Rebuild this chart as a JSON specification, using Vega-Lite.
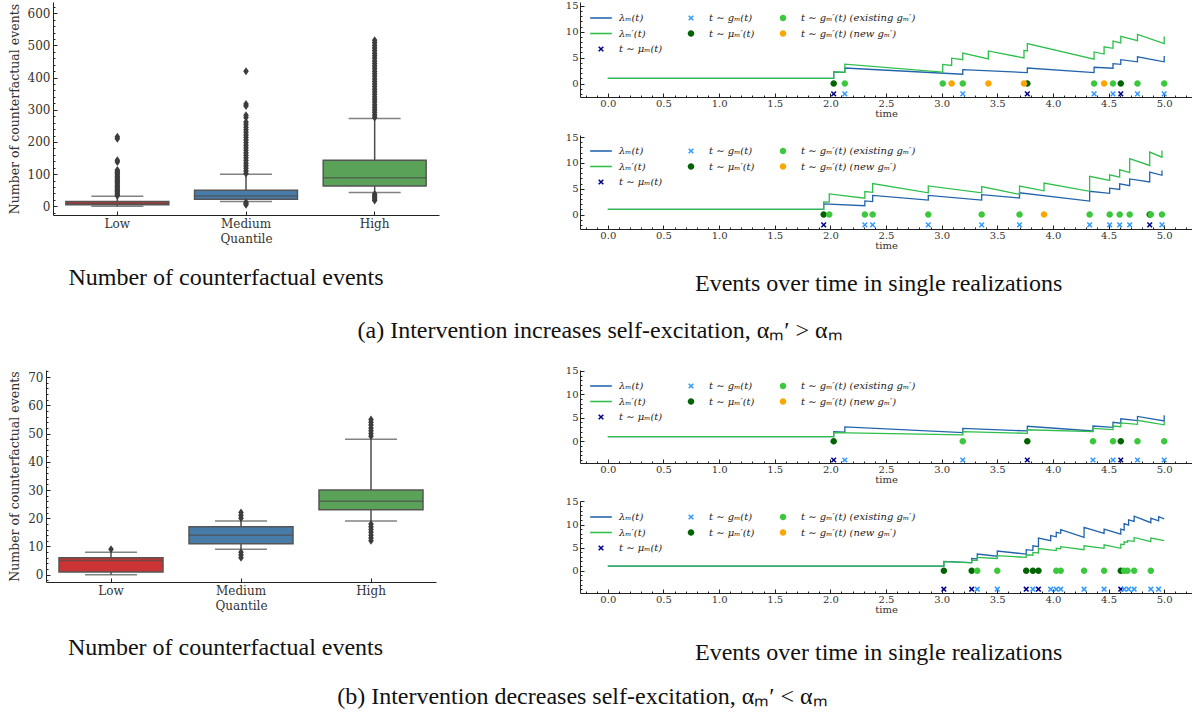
{
"$schema": "https://vega.github.io/schema/vega-lite/v6.json",
"padding": {"left": 8, "top": 0, "right": 0, "bottom": 0},
"config": {
  "view": {"stroke": null},
  "font": "DejaVu Serif",
  "axis": {"labelFont": "DejaVu Serif", "titleFont": "DejaVu Serif", "labelColor": "#333", "titleColor": "#333", "domainColor": "#222", "tickColor": "#222", "grid": false, "tickSize": -4, "labelPadding": 7, "titleFontWeight": "normal"},
  "legend": {"orient": "none", "legendX": 13, "legendY": 8, "columns": 3, "direction": "horizontal", "symbolSize": 240, "labelFont": "DejaVu Serif", "labelFontSize": 10, "labelFontStyle": "italic", "labelColor": "#222", "labelOffset": 10, "columnPadding": 20, "rowPadding": 2.5, "symbolStrokeWidth": 0},
  "title": {"font": "Liberation Serif", "fontSize": 24, "fontWeight": "normal", "color": "#111"}
},
"datasets": {
  "boxA": [
    {"q": "Low", "lo": 0, "q1": 5, "med": 9, "q3": 15, "hi": 31},
    {"q": "Medium", "lo": 15, "q1": 22, "med": 32, "q3": 50, "hi": 100},
    {"q": "High", "lo": 43, "q1": 63, "med": 89, "q3": 143, "hi": 273}
  ],
  "outA": [
    {"q":"Low","v":33},{"q":"Low","v":37},{"q":"Low","v":41},{"q":"Low","v":45},{"q":"Low","v":49},{"q":"Low","v":53},{"q":"Low","v":57},{"q":"Low","v":61},{"q":"Low","v":65},{"q":"Low","v":69},{"q":"Low","v":73},{"q":"Low","v":77},{"q":"Low","v":81},{"q":"Low","v":85},{"q":"Low","v":89},{"q":"Low","v":93},{"q":"Low","v":97},{"q":"Low","v":101},{"q":"Low","v":105},{"q":"Low","v":109},{"q":"Low","v":113},{"q":"Low","v":138},{"q":"Low","v":143},{"q":"Low","v":210},{"q":"Low","v":216},
    {"q":"Medium","v":5},{"q":"Medium","v":9},{"q":"Medium","v":13},{"q":"Medium","v":102},{"q":"Medium","v":110},{"q":"Medium","v":118},{"q":"Medium","v":126},{"q":"Medium","v":134},{"q":"Medium","v":142},{"q":"Medium","v":150},{"q":"Medium","v":158},{"q":"Medium","v":166},{"q":"Medium","v":174},{"q":"Medium","v":182},{"q":"Medium","v":190},{"q":"Medium","v":198},{"q":"Medium","v":206},{"q":"Medium","v":214},{"q":"Medium","v":222},{"q":"Medium","v":230},{"q":"Medium","v":238},{"q":"Medium","v":246},{"q":"Medium","v":254},{"q":"Medium","v":262},{"q":"Medium","v":276},{"q":"Medium","v":283},{"q":"Medium","v":312},{"q":"Medium","v":318},{"q":"Medium","v":420},
    {"q":"High","v":18},{"q":"High","v":23},{"q":"High","v":28},{"q":"High","v":33},{"q":"High","v":38},
    {"q":"High","v":276},{"q":"High","v":284},{"q":"High","v":292},{"q":"High","v":300},{"q":"High","v":308},{"q":"High","v":316},{"q":"High","v":324},{"q":"High","v":332},{"q":"High","v":340},{"q":"High","v":348},{"q":"High","v":356},{"q":"High","v":364},{"q":"High","v":372},{"q":"High","v":380},{"q":"High","v":388},{"q":"High","v":396},{"q":"High","v":404},{"q":"High","v":412},{"q":"High","v":420},{"q":"High","v":428},{"q":"High","v":436},{"q":"High","v":444},{"q":"High","v":452},{"q":"High","v":460},{"q":"High","v":468},{"q":"High","v":476},{"q":"High","v":484},{"q":"High","v":492},{"q":"High","v":500},{"q":"High","v":508},{"q":"High","v":516}
  ],
  "boxB": [
    {"q": "Low", "lo": 0, "q1": 1, "med": 5, "q3": 6, "hi": 8},
    {"q": "Medium", "lo": 9, "q1": 11, "med": 14, "q3": 17, "hi": 19},
    {"q": "High", "lo": 19, "q1": 23, "med": 26, "q3": 30, "hi": 48}
  ],
  "outB": [
    {"q":"Low","v":9},
    {"q":"Medium","v":6},{"q":"Medium","v":7},{"q":"Medium","v":8},{"q":"Medium","v":20},{"q":"Medium","v":21},{"q":"Medium","v":22},
    {"q":"High","v":12},{"q":"High","v":13},{"q":"High","v":14},{"q":"High","v":15},{"q":"High","v":16},{"q":"High","v":17},{"q":"High","v":18},
    {"q":"High","v":49},{"q":"High","v":50},{"q":"High","v":51},{"q":"High","v":52},{"q":"High","v":53},{"q":"High","v":54},{"q":"High","v":55}
  ],
  "aTopL": [
    {"s":"lm","t":0,"v":1},{"s":"lm","t":2.03,"v":1},{"s":"lm","t":2.03,"v":2.25},{"s":"lm","t":2.13,"v":2.15},{"s":"lm","t":2.13,"v":3.0},{"s":"lm","t":3.19,"v":1.8},{"s":"lm","t":3.19,"v":2.7},{"s":"lm","t":3.77,"v":2.1},{"s":"lm","t":3.77,"v":3.0},{"s":"lm","t":4.37,"v":2.1},{"s":"lm","t":4.37,"v":3.15},{"s":"lm","t":4.54,"v":2.95},{"s":"lm","t":4.54,"v":3.85},{"s":"lm","t":4.61,"v":3.7},{"s":"lm","t":4.61,"v":4.6},{"s":"lm","t":4.76,"v":4.2},{"s":"lm","t":4.76,"v":5.15},{"s":"lm","t":5.0,"v":4.2},{"s":"lm","t":5.0,"v":5.3},
    {"s":"lmp","t":0,"v":1},{"s":"lmp","t":2.03,"v":1},{"s":"lmp","t":2.03,"v":2.25},{"s":"lmp","t":2.13,"v":2.15},{"s":"lmp","t":2.13,"v":3.75},{"s":"lmp","t":3.01,"v":2.2},{"s":"lmp","t":3.01,"v":3.7},{"s":"lmp","t":3.09,"v":3.5},{"s":"lmp","t":3.09,"v":4.9},{"s":"lmp","t":3.19,"v":4.6},{"s":"lmp","t":3.19,"v":5.9},{"s":"lmp","t":3.42,"v":4.75},{"s":"lmp","t":3.42,"v":6.3},{"s":"lmp","t":3.74,"v":4.95},{"s":"lmp","t":3.74,"v":6.4},{"s":"lmp","t":3.77,"v":6.3},{"s":"lmp","t":3.77,"v":7.7},{"s":"lmp","t":4.37,"v":4.7},{"s":"lmp","t":4.37,"v":6.1},{"s":"lmp","t":4.46,"v":5.7},{"s":"lmp","t":4.46,"v":7.1},{"s":"lmp","t":4.54,"v":6.8},{"s":"lmp","t":4.54,"v":8.2},{"s":"lmp","t":4.61,"v":7.85},{"s":"lmp","t":4.61,"v":9.1},{"s":"lmp","t":4.76,"v":8.3},{"s":"lmp","t":4.76,"v":9.5},{"s":"lmp","t":5.0,"v":7.7},{"s":"lmp","t":5.0,"v":9.1}
  ],
  "aTopE": [
    {"s":"mum","t":2.03,"v":-2},{"s":"mum","t":3.77,"v":-2},{"s":"mum","t":4.61,"v":-2},
    {"s":"gm","t":2.13,"v":-2},{"s":"gm","t":3.19,"v":-2},{"s":"gm","t":4.37,"v":-2},{"s":"gm","t":4.54,"v":-2},{"s":"gm","t":4.76,"v":-2},{"s":"gm","t":5.0,"v":-2},
    {"s":"mup","t":2.03,"v":0},{"s":"mup","t":3.77,"v":0},{"s":"mup","t":4.61,"v":0},
    {"s":"ex","t":2.13,"v":0},{"s":"ex","t":3.01,"v":0},{"s":"ex","t":3.19,"v":0},{"s":"ex","t":4.37,"v":0},{"s":"ex","t":4.54,"v":0},{"s":"ex","t":4.76,"v":0},{"s":"ex","t":5.0,"v":0},
    {"s":"nw","t":3.09,"v":0},{"s":"nw","t":3.42,"v":0},{"s":"nw","t":3.74,"v":0},{"s":"nw","t":4.46,"v":0}
  ],
  "aBotL": [
    {"s":"lm","t":0,"v":1},{"s":"lm","t":1.94,"v":1},{"s":"lm","t":1.94,"v":2.05},{"s":"lm","t":2.31,"v":1.7},{"s":"lm","t":2.31,"v":2.65},{"s":"lm","t":2.38,"v":2.5},{"s":"lm","t":2.38,"v":3.7},{"s":"lm","t":2.88,"v":2.8},{"s":"lm","t":2.88,"v":3.7},{"s":"lm","t":3.36,"v":2.8},{"s":"lm","t":3.36,"v":3.85},{"s":"lm","t":3.70,"v":3.2},{"s":"lm","t":3.70,"v":4.2},{"s":"lm","t":4.33,"v":2.6},{"s":"lm","t":4.33,"v":4.5},{"s":"lm","t":4.51,"v":4.1},{"s":"lm","t":4.51,"v":5.1},{"s":"lm","t":4.60,"v":4.85},{"s":"lm","t":4.60,"v":5.95},{"s":"lm","t":4.69,"v":5.6},{"s":"lm","t":4.69,"v":6.9},{"s":"lm","t":4.87,"v":6.3},{"s":"lm","t":4.87,"v":8.2},{"s":"lm","t":4.98,"v":7.6},{"s":"lm","t":4.98,"v":8.55},
    {"s":"lmp","t":0,"v":1},{"s":"lmp","t":1.94,"v":1},{"s":"lmp","t":1.94,"v":2.45},{"s":"lmp","t":1.99,"v":2.4},{"s":"lmp","t":1.99,"v":4.0},{"s":"lmp","t":2.31,"v":3.15},{"s":"lmp","t":2.31,"v":4.45},{"s":"lmp","t":2.38,"v":4.3},{"s":"lmp","t":2.38,"v":6.0},{"s":"lmp","t":2.88,"v":4.2},{"s":"lmp","t":2.88,"v":5.55},{"s":"lmp","t":3.36,"v":4.2},{"s":"lmp","t":3.36,"v":5.4},{"s":"lmp","t":3.70,"v":3.9},{"s":"lmp","t":3.70,"v":5.5},{"s":"lmp","t":3.92,"v":4.6},{"s":"lmp","t":3.92,"v":6.1},{"s":"lmp","t":4.33,"v":4.5},{"s":"lmp","t":4.33,"v":7.4},{"s":"lmp","t":4.51,"v":6.6},{"s":"lmp","t":4.51,"v":7.7},{"s":"lmp","t":4.60,"v":7.25},{"s":"lmp","t":4.60,"v":8.7},{"s":"lmp","t":4.69,"v":8.1},{"s":"lmp","t":4.69,"v":10.8},{"s":"lmp","t":4.87,"v":9.5},{"s":"lmp","t":4.87,"v":12.1},{"s":"lmp","t":4.98,"v":11.1},{"s":"lmp","t":4.98,"v":12.4}
  ],
  "aBotE": [
    {"s":"mum","t":1.94,"v":-2},{"s":"mum","t":4.87,"v":-2},
    {"s":"gm","t":2.31,"v":-2},{"s":"gm","t":2.38,"v":-2},{"s":"gm","t":2.88,"v":-2},{"s":"gm","t":3.36,"v":-2},{"s":"gm","t":3.70,"v":-2},{"s":"gm","t":4.33,"v":-2},{"s":"gm","t":4.51,"v":-2},{"s":"gm","t":4.60,"v":-2},{"s":"gm","t":4.69,"v":-2},{"s":"gm","t":4.98,"v":-2},
    {"s":"mup","t":1.94,"v":0},{"s":"mup","t":4.87,"v":0},
    {"s":"ex","t":1.99,"v":0},{"s":"ex","t":2.31,"v":0},{"s":"ex","t":2.38,"v":0},{"s":"ex","t":2.88,"v":0},{"s":"ex","t":3.36,"v":0},{"s":"ex","t":3.70,"v":0},{"s":"ex","t":4.33,"v":0},{"s":"ex","t":4.51,"v":0},{"s":"ex","t":4.60,"v":0},{"s":"ex","t":4.69,"v":0},{"s":"ex","t":4.88,"v":0},{"s":"ex","t":4.98,"v":0},
    {"s":"nw","t":3.92,"v":0}
  ],
  "bTopL": [
    {"s":"lm","t":0,"v":1},{"s":"lm","t":2.03,"v":1},{"s":"lm","t":2.03,"v":2.05},{"s":"lm","t":2.13,"v":1.95},{"s":"lm","t":2.13,"v":3.05},{"s":"lm","t":3.19,"v":1.85},{"s":"lm","t":3.19,"v":2.75},{"s":"lm","t":3.77,"v":2.2},{"s":"lm","t":3.77,"v":3.2},{"s":"lm","t":4.36,"v":2.2},{"s":"lm","t":4.36,"v":3.25},{"s":"lm","t":4.54,"v":2.95},{"s":"lm","t":4.54,"v":4.05},{"s":"lm","t":4.61,"v":3.85},{"s":"lm","t":4.61,"v":4.8},{"s":"lm","t":4.76,"v":4.4},{"s":"lm","t":4.76,"v":5.3},{"s":"lm","t":5.0,"v":4.35},{"s":"lm","t":5.0,"v":5.55},
    {"s":"lmp","t":0,"v":1},{"s":"lmp","t":2.03,"v":1},{"s":"lmp","t":2.03,"v":1.85},{"s":"lmp","t":3.19,"v":1.35},{"s":"lmp","t":3.19,"v":2.05},{"s":"lmp","t":3.77,"v":1.7},{"s":"lmp","t":3.77,"v":2.45},{"s":"lmp","t":4.36,"v":2.05},{"s":"lmp","t":4.36,"v":2.75},{"s":"lmp","t":4.54,"v":2.5},{"s":"lmp","t":4.54,"v":3.25},{"s":"lmp","t":4.61,"v":3.1},{"s":"lmp","t":4.61,"v":3.9},{"s":"lmp","t":4.76,"v":3.6},{"s":"lmp","t":4.76,"v":4.45},{"s":"lmp","t":5.0,"v":3.5},{"s":"lmp","t":5.0,"v":4.2}
  ],
  "bTopE": [
    {"s":"mum","t":2.03,"v":-4},{"s":"mum","t":3.77,"v":-4},{"s":"mum","t":4.61,"v":-4},
    {"s":"gm","t":2.13,"v":-4},{"s":"gm","t":3.19,"v":-4},{"s":"gm","t":4.36,"v":-4},{"s":"gm","t":4.54,"v":-4},{"s":"gm","t":4.76,"v":-4},{"s":"gm","t":5.0,"v":-4},
    {"s":"mup","t":2.03,"v":0},{"s":"mup","t":3.77,"v":0},{"s":"mup","t":4.61,"v":0},
    {"s":"ex","t":3.19,"v":0},{"s":"ex","t":4.36,"v":0},{"s":"ex","t":4.54,"v":0},{"s":"ex","t":4.76,"v":0},{"s":"ex","t":5.0,"v":0}
  ],
  "bBotL": [
    {"s":"lm","t":0,"v":1},{"s":"lm","t":3.02,"v":1},{"s":"lm","t":3.02,"v":2.0},{"s":"lm","t":3.27,"v":1.75},{"s":"lm","t":3.27,"v":2.65},{"s":"lm","t":3.32,"v":2.55},{"s":"lm","t":3.32,"v":3.6},{"s":"lm","t":3.50,"v":3.15},{"s":"lm","t":3.50,"v":4.25},{"s":"lm","t":3.76,"v":3.6},{"s":"lm","t":3.76,"v":4.55},{"s":"lm","t":3.82,"v":4.4},{"s":"lm","t":3.82,"v":5.4},{"s":"lm","t":3.87,"v":5.2},{"s":"lm","t":3.87,"v":7.05},{"s":"lm","t":3.98,"v":6.5},{"s":"lm","t":3.98,"v":7.6},{"s":"lm","t":4.03,"v":7.35},{"s":"lm","t":4.03,"v":8.3},{"s":"lm","t":4.07,"v":8.1},{"s":"lm","t":4.07,"v":8.9},{"s":"lm","t":4.28,"v":7.2},{"s":"lm","t":4.28,"v":9.4},{"s":"lm","t":4.46,"v":8.1},{"s":"lm","t":4.46,"v":9.0},{"s":"lm","t":4.61,"v":7.9},{"s":"lm","t":4.61,"v":9.0},{"s":"lm","t":4.64,"v":8.8},{"s":"lm","t":4.64,"v":10.2},{"s":"lm","t":4.68,"v":9.9},{"s":"lm","t":4.68,"v":11.0},{"s":"lm","t":4.73,"v":10.7},{"s":"lm","t":4.73,"v":11.8},{"s":"lm","t":4.88,"v":10.4},{"s":"lm","t":4.88,"v":11.4},{"s":"lm","t":4.95,"v":10.8},{"s":"lm","t":4.95,"v":11.7},{"s":"lm","t":5.0,"v":11.25},
    {"s":"lmp","t":0,"v":1},{"s":"lmp","t":3.02,"v":1},{"s":"lmp","t":3.02,"v":1.95},{"s":"lmp","t":3.27,"v":1.7},{"s":"lmp","t":3.27,"v":2.3},{"s":"lmp","t":3.32,"v":2.25},{"s":"lmp","t":3.32,"v":2.9},{"s":"lmp","t":3.50,"v":2.65},{"s":"lmp","t":3.50,"v":3.25},{"s":"lmp","t":3.76,"v":2.9},{"s":"lmp","t":3.76,"v":3.45},{"s":"lmp","t":3.82,"v":3.35},{"s":"lmp","t":3.82,"v":3.95},{"s":"lmp","t":3.87,"v":3.85},{"s":"lmp","t":3.87,"v":4.8},{"s":"lmp","t":4.03,"v":4.35},{"s":"lmp","t":4.03,"v":4.85},{"s":"lmp","t":4.07,"v":4.75},{"s":"lmp","t":4.07,"v":5.2},{"s":"lmp","t":4.28,"v":4.55},{"s":"lmp","t":4.28,"v":5.4},{"s":"lmp","t":4.46,"v":4.85},{"s":"lmp","t":4.46,"v":5.6},{"s":"lmp","t":4.61,"v":4.85},{"s":"lmp","t":4.61,"v":5.75},{"s":"lmp","t":4.64,"v":5.65},{"s":"lmp","t":4.64,"v":6.25},{"s":"lmp","t":4.67,"v":6.15},{"s":"lmp","t":4.67,"v":6.5},{"s":"lmp","t":4.73,"v":6.35},{"s":"lmp","t":4.73,"v":7.2},{"s":"lmp","t":4.88,"v":6.3},{"s":"lmp","t":4.88,"v":7.05},{"s":"lmp","t":5.0,"v":6.5}
  ],
  "bBotE": [
    {"s":"mum","t":3.02,"v":-4},{"s":"mum","t":3.27,"v":-4},{"s":"mum","t":3.76,"v":-4},{"s":"mum","t":3.87,"v":-4},{"s":"mum","t":4.61,"v":-4},
    {"s":"gm","t":3.32,"v":-4},{"s":"gm","t":3.50,"v":-4},{"s":"gm","t":3.82,"v":-4},{"s":"gm","t":3.98,"v":-4},{"s":"gm","t":4.03,"v":-4},{"s":"gm","t":4.07,"v":-4},{"s":"gm","t":4.28,"v":-4},{"s":"gm","t":4.46,"v":-4},{"s":"gm","t":4.64,"v":-4},{"s":"gm","t":4.68,"v":-4},{"s":"gm","t":4.73,"v":-4},{"s":"gm","t":4.88,"v":-4},{"s":"gm","t":4.95,"v":-4},
    {"s":"mup","t":3.02,"v":0},{"s":"mup","t":3.27,"v":0},{"s":"mup","t":3.76,"v":0},{"s":"mup","t":3.82,"v":0},{"s":"mup","t":3.87,"v":0},{"s":"mup","t":4.61,"v":0},
    {"s":"ex","t":3.32,"v":0},{"s":"ex","t":3.50,"v":0},{"s":"ex","t":4.03,"v":0},{"s":"ex","t":4.07,"v":0},{"s":"ex","t":4.28,"v":0},{"s":"ex","t":4.46,"v":0},{"s":"ex","t":4.64,"v":0},{"s":"ex","t":4.67,"v":0},{"s":"ex","t":4.73,"v":0},{"s":"ex","t":4.88,"v":0}
  ]
},
"concat": [
  {
    "hconcat": [
      {
        "width": 386, "height": 213,
        "title": {"text": "Number of counterfactual events", "orient": "bottom", "anchor": "middle", "offset": 22, "dx": -20},
        "encoding": {"x": {"field": "q", "type": "nominal", "sort": ["Low","Medium","High"], "scale": {"domain": ["Low","Medium","High"], "paddingInner": 0, "paddingOuter": 0}, "axis": {"title": "Quantile", "labelAngle": 0, "labelFontSize": 12, "titleFontSize": 12, "titlePadding": 4}}},
        "layer": [
          {"data": {"name": "boxA"}, "mark": {"type": "rule", "color": "#4d4d4d", "strokeWidth": 1.5}, "encoding": {"y": {"field": "lo", "type": "quantitative", "scale": {"domain": [-27, 635], "nice": false, "zero": false}, "axis": {"title": "Number of counterfactual events", "values": [0,100,200,300,400,500,600], "labelFontSize": 12, "titleFontSize": 12.5, "titlePadding": 6}}, "y2": {"field": "hi"}}},
          {"data": {"name": "boxA"}, "mark": {"type": "tick", "color": "#4d4d4d", "size": 52, "thickness": 1.5}, "encoding": {"y": {"field": "lo", "type": "quantitative", "scale": {"domain": [-27, 635], "nice": false, "zero": false}, "axis": null}}},
          {"data": {"name": "boxA"}, "mark": {"type": "tick", "color": "#4d4d4d", "size": 52, "thickness": 1.5}, "encoding": {"y": {"field": "hi", "type": "quantitative", "scale": {"domain": [-27, 635], "nice": false, "zero": false}, "axis": null}}},
          {"data": {"name": "boxA"}, "mark": {"type": "bar", "width": {"band": 0.8}, "stroke": "#555555", "strokeWidth": 1.5}, "encoding": {"y": {"field": "q1", "type": "quantitative", "scale": {"domain": [-27, 635], "nice": false, "zero": false}, "axis": null}, "y2": {"field": "q3"}, "color": {"field": "q", "type": "nominal", "scale": {"domain": ["Low","Medium","High"], "range": ["#cb3335","#477ca8","#59a257"]}, "legend": null}}},
          {"data": {"name": "boxA"}, "mark": {"type": "tick", "color": "#4d4d4d", "size": 103, "thickness": 1.5}, "encoding": {"y": {"field": "med", "type": "quantitative", "scale": {"domain": [-27, 635], "nice": false, "zero": false}, "axis": null}}},
          {"data": {"name": "outA"}, "mark": {"type": "point", "shape": "M0,-1L0.7,0L0,1L-0.7,0Z", "filled": true, "color": "#3d3d3d", "size": 64, "opacity": 1}, "encoding": {"y": {"field": "v", "type": "quantitative", "scale": {"domain": [-27, 635], "nice": false, "zero": false}, "axis": {"title": null, "orient": "left", "labels": false, "domain": false, "tickSize": -2, "values": [-20,20,40,60,80,120,140,160,180,220,240,260,280,320,340,360,380,420,440,460,480,520,540,560,580,620]}}}}
        ],
        "resolve": {"axis": {"y": "independent"}}
      },
      {
        "vconcat": [
          {
            "width": 612, "height": 95,
            "layer": [
              {"data": {"name": "aTopL"}, "transform": [{"filter": "datum.s === 'lm'"}], "mark": {"type": "line", "color": "#2163ad", "strokeWidth": 1.3},
               "encoding": {"x": {"field": "t", "type": "quantitative", "scale": {"domain": [-0.25, 5.25], "nice": false, "zero": false}, "axis": {"title": "time", "values": [0,0.5,1,1.5,2,2.5,3,3.5,4,4.5,5], "format": ".1f", "labelFontSize": 10, "titleFontSize": 10, "titlePadding": 0, "labelPadding": 5}},
                 "y": {"field": "v", "type": "quantitative", "scale": {"domain": [-2.6, 15.75], "nice": false, "zero": false}, "axis": {"title": null, "values": [0,5,10,15], "labelFontSize": 10, "labelPadding": 6}}, "order": {"value": null}}},
              {"data": {"name": "aTopL"}, "transform": [{"filter": "datum.s === 'lmp'"}], "mark": {"type": "line", "color": "#2dbf4a", "strokeWidth": 1.3},
               "encoding": {"x": {"field": "t", "type": "quantitative", "scale": {"domain": [-0.25, 5.25], "nice": false, "zero": false}, "axis": null}, "y": {"field": "v", "type": "quantitative", "scale": {"domain": [-2.6, 15.75], "nice": false, "zero": false}, "axis": null}, "order": {"value": null}}},
              {"data": {"name": "aTopE"}, "mark": {"type": "point", "filled": true, "size": 240, "opacity": 1, "strokeWidth": 0},
               "encoding": {
                 "x": {"field": "t", "type": "quantitative", "scale": {"domain": [-0.25, 5.25], "nice": false, "zero": false}, "axis": {"title": null, "orient": "bottom", "labels": false, "domain": false, "tickSize": -2, "values": [-0.2,-0.1,0.1,0.2,0.3,0.4,0.6,0.7,0.8,0.9,1.1,1.2,1.3,1.4,1.6,1.7,1.8,1.9,2.1,2.2,2.3,2.4,2.6,2.7,2.8,2.9,3.1,3.2,3.3,3.4,3.6,3.7,3.8,3.9,4.1,4.2,4.3,4.4,4.6,4.7,4.8,4.9,5.1,5.2]}},
                 "y": {"field": "v", "type": "quantitative", "scale": {"domain": [-2.6, 15.75], "nice": false, "zero": false}, "axis": {"title": null, "orient": "left", "labels": false, "domain": false, "tickSize": -2, "values": [-2,-1,1,2,3,4,6,7,8,9,11,12,13,14]}},
                 "fill": {"field": "s", "type": "nominal", "scale": {"domain": ["lm","gm","ex","lmp","mup","nw","mum"], "range": ["#2163ad","#3399ff","#3cc83c","#2dbf4a","#006400","#ffa500","#00008b"]},
                   "legend": {"title": null, "labelExpr": "datum.value === 'lm' ? 'λₘ(t)' : datum.value === 'lmp' ? 'λₘ′(t)' : datum.value === 'mum' ? 't ∼ μₘ(t)' : datum.value === 'gm' ? 't ∼ gₘ(t)' : datum.value === 'mup' ? 't ∼ μₘ′(t)' : datum.value === 'ex' ? 't ∼ gₘ′(t) (existing gₘ′)' : 't ∼ gₘ′(t) (new gₘ′)'"}},
                 "shape": {"field": "s", "type": "nominal", "scale": {"domain": ["lm","gm","ex","lmp","mup","nw","mum"], "range": ["M-1.4,-0.1L1.4,-0.1L1.4,0.1L-1.4,0.1Z","M-0.23,-0.37L0.37,0.23L0.23,0.37L-0.37,-0.23ZM-0.37,0.23L0.23,-0.37L0.37,-0.23L-0.23,0.37Z","M0.42,0A0.42,0.42,0,1,1,-0.42,0A0.42,0.42,0,1,1,0.42,0Z","M-1.4,-0.1L1.4,-0.1L1.4,0.1L-1.4,0.1Z","M0.42,0A0.42,0.42,0,1,1,-0.42,0A0.42,0.42,0,1,1,0.42,0Z","M0.42,0A0.42,0.42,0,1,1,-0.42,0A0.42,0.42,0,1,1,0.42,0Z","M-0.23,-0.37L0.37,0.23L0.23,0.37L-0.37,-0.23ZM-0.37,0.23L0.23,-0.37L0.37,-0.23L-0.23,0.37Z"]}}
               }}
            ],
            "resolve": {"axis": {"x": "independent", "y": "independent"}}
          },
          {
            "width": 612, "height": 94,
            "layer": [
              {"data": {"name": "aBotL"}, "transform": [{"filter": "datum.s === 'lm'"}], "mark": {"type": "line", "color": "#2163ad", "strokeWidth": 1.3},
               "encoding": {"x": {"field": "t", "type": "quantitative", "scale": {"domain": [-0.25, 5.25], "nice": false, "zero": false}, "axis": {"title": "time", "values": [0,0.5,1,1.5,2,2.5,3,3.5,4,4.5,5], "format": ".1f", "labelFontSize": 10, "titleFontSize": 10, "titlePadding": 0, "labelPadding": 5}},
                 "y": {"field": "v", "type": "quantitative", "scale": {"domain": [-2.8, 15.4], "nice": false, "zero": false}, "axis": {"title": null, "values": [0,5,10,15], "labelFontSize": 10, "labelPadding": 6}}, "order": {"value": null}}},
              {"data": {"name": "aBotL"}, "transform": [{"filter": "datum.s === 'lmp'"}], "mark": {"type": "line", "color": "#2dbf4a", "strokeWidth": 1.3},
               "encoding": {"x": {"field": "t", "type": "quantitative", "scale": {"domain": [-0.25, 5.25], "nice": false, "zero": false}, "axis": null}, "y": {"field": "v", "type": "quantitative", "scale": {"domain": [-2.8, 15.4], "nice": false, "zero": false}, "axis": null}, "order": {"value": null}}},
              {"data": {"name": "aBotE"}, "mark": {"type": "point", "filled": true, "size": 240, "opacity": 1, "strokeWidth": 0},
               "encoding": {
                 "x": {"field": "t", "type": "quantitative", "scale": {"domain": [-0.25, 5.25], "nice": false, "zero": false}, "axis": {"title": null, "orient": "bottom", "labels": false, "domain": false, "tickSize": -2, "values": [-0.2,-0.1,0.1,0.2,0.3,0.4,0.6,0.7,0.8,0.9,1.1,1.2,1.3,1.4,1.6,1.7,1.8,1.9,2.1,2.2,2.3,2.4,2.6,2.7,2.8,2.9,3.1,3.2,3.3,3.4,3.6,3.7,3.8,3.9,4.1,4.2,4.3,4.4,4.6,4.7,4.8,4.9,5.1,5.2]}},
                 "y": {"field": "v", "type": "quantitative", "scale": {"domain": [-2.8, 15.4], "nice": false, "zero": false}, "axis": {"title": null, "orient": "left", "labels": false, "domain": false, "tickSize": -2, "values": [-2,-1,1,2,3,4,6,7,8,9,11,12,13,14]}},
                 "fill": {"field": "s", "type": "nominal", "scale": {"domain": ["lm","gm","ex","lmp","mup","nw","mum"], "range": ["#2163ad","#3399ff","#3cc83c","#2dbf4a","#006400","#ffa500","#00008b"]},
                   "legend": {"title": null, "labelExpr": "datum.value === 'lm' ? 'λₘ(t)' : datum.value === 'lmp' ? 'λₘ′(t)' : datum.value === 'mum' ? 't ∼ μₘ(t)' : datum.value === 'gm' ? 't ∼ gₘ(t)' : datum.value === 'mup' ? 't ∼ μₘ′(t)' : datum.value === 'ex' ? 't ∼ gₘ′(t) (existing gₘ′)' : 't ∼ gₘ′(t) (new gₘ′)'"}},
                 "shape": {"field": "s", "type": "nominal", "scale": {"domain": ["lm","gm","ex","lmp","mup","nw","mum"], "range": ["M-1.4,-0.1L1.4,-0.1L1.4,0.1L-1.4,0.1Z","M-0.23,-0.37L0.37,0.23L0.23,0.37L-0.37,-0.23ZM-0.37,0.23L0.23,-0.37L0.37,-0.23L-0.23,0.37Z","M0.42,0A0.42,0.42,0,1,1,-0.42,0A0.42,0.42,0,1,1,0.42,0Z","M-1.4,-0.1L1.4,-0.1L1.4,0.1L-1.4,0.1Z","M0.42,0A0.42,0.42,0,1,1,-0.42,0A0.42,0.42,0,1,1,0.42,0Z","M0.42,0A0.42,0.42,0,1,1,-0.42,0A0.42,0.42,0,1,1,0.42,0Z","M-0.23,-0.37L0.37,0.23L0.23,0.37L-0.37,-0.23ZM-0.37,0.23L0.23,-0.37L0.37,-0.23L-0.23,0.37Z"]}}
               }}
            ],
            "resolve": {"axis": {"x": "independent", "y": "independent"}}
          }
        ],
        "spacing": 38, "bounds": "flush",
        "title": {"text": "Events over time in single realizations", "orient": "bottom", "anchor": "middle", "offset": 22, "dx": 0},
        "resolve": {"scale": {"x": "independent", "y": "independent", "fill": "independent", "shape": "independent"}, "legend": {"fill": "independent", "shape": "independent"}}
      }
    ],
    "spacing": 141, "bounds": "flush",
    "title": {"text": "(a) Intervention increases self-excitation, αₘ′ > αₘ", "orient": "bottom", "anchor": "middle", "offset": 23, "dx": 0},
    "resolve": {"scale": {"x": "independent", "y": "independent", "fill": "independent", "shape": "independent", "color": "independent"}, "legend": {"fill": "independent", "shape": "independent", "color": "independent"}}
  },
  {
    "hconcat": [
      {
        "width": 383, "height": 212,
        "title": {"text": "Number of counterfactual events", "orient": "bottom", "anchor": "middle", "offset": 25, "dx": -19},
        "encoding": {"x": {"field": "q", "type": "nominal", "sort": ["Low","Medium","High"], "scale": {"domain": ["Low","Medium","High"], "range": [-7, 383], "paddingInner": 0, "paddingOuter": 0}, "axis": {"title": "Quantile", "labelAngle": 0, "labelFontSize": 12, "titleFontSize": 12, "titlePadding": 4}}},
        "layer": [
          {"data": {"name": "boxB"}, "mark": {"type": "rule", "color": "#4d4d4d", "strokeWidth": 1.5}, "encoding": {"y": {"field": "lo", "type": "quantitative", "scale": {"domain": [-2.58, 72.5], "nice": false, "zero": false}, "axis": {"title": "Number of counterfactual events", "offset": 7, "values": [0,10,20,30,40,50,60,70], "labelFontSize": 12, "titleFontSize": 12.5, "titlePadding": 6}}, "y2": {"field": "hi"}}},
          {"data": {"name": "boxB"}, "mark": {"type": "tick", "color": "#4d4d4d", "size": 52, "thickness": 1.5}, "encoding": {"y": {"field": "lo", "type": "quantitative", "scale": {"domain": [-2.58, 72.5], "nice": false, "zero": false}, "axis": null}}},
          {"data": {"name": "boxB"}, "mark": {"type": "tick", "color": "#4d4d4d", "size": 52, "thickness": 1.5}, "encoding": {"y": {"field": "hi", "type": "quantitative", "scale": {"domain": [-2.58, 72.5], "nice": false, "zero": false}, "axis": null}}},
          {"data": {"name": "boxB"}, "mark": {"type": "bar", "width": {"band": 0.8}, "stroke": "#555555", "strokeWidth": 1.5}, "encoding": {"y": {"field": "q1", "type": "quantitative", "scale": {"domain": [-2.58, 72.5], "nice": false, "zero": false}, "axis": null}, "y2": {"field": "q3"}, "color": {"field": "q", "type": "nominal", "scale": {"domain": ["Low","Medium","High"], "range": ["#cb3335","#477ca8","#59a257"]}, "legend": null}}},
          {"data": {"name": "boxB"}, "mark": {"type": "tick", "color": "#4d4d4d", "size": 104, "thickness": 1.5}, "encoding": {"y": {"field": "med", "type": "quantitative", "scale": {"domain": [-2.58, 72.5], "nice": false, "zero": false}, "axis": null}}},
          {"data": {"name": "outB"}, "mark": {"type": "point", "shape": "M0,-1L0.7,0L0,1L-0.7,0Z", "filled": true, "color": "#3d3d3d", "size": 64, "opacity": 1}, "encoding": {"y": {"field": "v", "type": "quantitative", "scale": {"domain": [-2.58, 72.5], "nice": false, "zero": false}, "axis": {"title": null, "orient": "left", "offset": 7, "labels": false, "domain": false, "tickSize": -2, "values": [-2,2,4,6,8,12,14,16,18,22,24,26,28,32,34,36,38,42,44,46,48,52,54,56,58,62,64,66,68,72]}}}}
        ],
        "resolve": {"axis": {"y": "independent"}}
      },
      {
        "vconcat": [
          {
            "width": 612, "height": 93,
            "layer": [
              {"data": {"name": "bTopL"}, "transform": [{"filter": "datum.s === 'lm'"}], "mark": {"type": "line", "color": "#2163ad", "strokeWidth": 1.3},
               "encoding": {"x": {"field": "t", "type": "quantitative", "scale": {"domain": [-0.25, 5.25], "nice": false, "zero": false}, "axis": {"title": "time", "values": [0,0.5,1,1.5,2,2.5,3,3.5,4,4.5,5], "format": ".1f", "labelFontSize": 10, "titleFontSize": 10, "titlePadding": 0, "labelPadding": 5}},
                 "y": {"field": "v", "type": "quantitative", "scale": {"domain": [-4.64, 15.2], "nice": false, "zero": false}, "axis": {"title": null, "values": [0,5,10,15], "labelFontSize": 10, "labelPadding": 6}}, "order": {"value": null}}},
              {"data": {"name": "bTopL"}, "transform": [{"filter": "datum.s === 'lmp'"}], "mark": {"type": "line", "color": "#2dbf4a", "strokeWidth": 1.3},
               "encoding": {"x": {"field": "t", "type": "quantitative", "scale": {"domain": [-0.25, 5.25], "nice": false, "zero": false}, "axis": null}, "y": {"field": "v", "type": "quantitative", "scale": {"domain": [-4.64, 15.2], "nice": false, "zero": false}, "axis": null}, "order": {"value": null}}},
              {"data": {"name": "bTopE"}, "mark": {"type": "point", "filled": true, "size": 240, "opacity": 1, "strokeWidth": 0},
               "encoding": {
                 "x": {"field": "t", "type": "quantitative", "scale": {"domain": [-0.25, 5.25], "nice": false, "zero": false}, "axis": {"title": null, "orient": "bottom", "labels": false, "domain": false, "tickSize": -2, "values": [-0.2,-0.1,0.1,0.2,0.3,0.4,0.6,0.7,0.8,0.9,1.1,1.2,1.3,1.4,1.6,1.7,1.8,1.9,2.1,2.2,2.3,2.4,2.6,2.7,2.8,2.9,3.1,3.2,3.3,3.4,3.6,3.7,3.8,3.9,4.1,4.2,4.3,4.4,4.6,4.7,4.8,4.9,5.1,5.2]}},
                 "y": {"field": "v", "type": "quantitative", "scale": {"domain": [-4.64, 15.2], "nice": false, "zero": false}, "axis": {"title": null, "orient": "left", "labels": false, "domain": false, "tickSize": -2, "values": [-4,-3,-2,-1,1,2,3,4,6,7,8,9,11,12,13,14]}},
                 "fill": {"field": "s", "type": "nominal", "scale": {"domain": ["lm","gm","ex","lmp","mup","nw","mum"], "range": ["#2163ad","#3399ff","#3cc83c","#2dbf4a","#006400","#ffa500","#00008b"]},
                   "legend": {"title": null, "labelExpr": "datum.value === 'lm' ? 'λₘ(t)' : datum.value === 'lmp' ? 'λₘ′(t)' : datum.value === 'mum' ? 't ∼ μₘ(t)' : datum.value === 'gm' ? 't ∼ gₘ(t)' : datum.value === 'mup' ? 't ∼ μₘ′(t)' : datum.value === 'ex' ? 't ∼ gₘ′(t) (existing gₘ′)' : 't ∼ gₘ′(t) (new gₘ′)'"}},
                 "shape": {"field": "s", "type": "nominal", "scale": {"domain": ["lm","gm","ex","lmp","mup","nw","mum"], "range": ["M-1.4,-0.1L1.4,-0.1L1.4,0.1L-1.4,0.1Z","M-0.23,-0.37L0.37,0.23L0.23,0.37L-0.37,-0.23ZM-0.37,0.23L0.23,-0.37L0.37,-0.23L-0.23,0.37Z","M0.42,0A0.42,0.42,0,1,1,-0.42,0A0.42,0.42,0,1,1,0.42,0Z","M-1.4,-0.1L1.4,-0.1L1.4,0.1L-1.4,0.1Z","M0.42,0A0.42,0.42,0,1,1,-0.42,0A0.42,0.42,0,1,1,0.42,0Z","M0.42,0A0.42,0.42,0,1,1,-0.42,0A0.42,0.42,0,1,1,0.42,0Z","M-0.23,-0.37L0.37,0.23L0.23,0.37L-0.37,-0.23ZM-0.37,0.23L0.23,-0.37L0.37,-0.23L-0.23,0.37Z"]}}
               }}
            ],
            "resolve": {"axis": {"x": "independent", "y": "independent"}}
          },
          {
            "width": 612, "height": 92,
            "layer": [
              {"data": {"name": "bBotL"}, "transform": [{"filter": "datum.s === 'lm'"}], "mark": {"type": "line", "color": "#2163ad", "strokeWidth": 1.3},
               "encoding": {"x": {"field": "t", "type": "quantitative", "scale": {"domain": [-0.25, 5.25], "nice": false, "zero": false}, "axis": {"title": "time", "values": [0,0.5,1,1.5,2,2.5,3,3.5,4,4.5,5], "format": ".1f", "labelFontSize": 10, "titleFontSize": 10, "titlePadding": 0, "labelPadding": 5}},
                 "y": {"field": "v", "type": "quantitative", "scale": {"domain": [-4.83, 15.1], "nice": false, "zero": false}, "axis": {"title": null, "values": [0,5,10,15], "labelFontSize": 10, "labelPadding": 6}}, "order": {"value": null}}},
              {"data": {"name": "bBotL"}, "transform": [{"filter": "datum.s === 'lmp'"}], "mark": {"type": "line", "color": "#2dbf4a", "strokeWidth": 1.3},
               "encoding": {"x": {"field": "t", "type": "quantitative", "scale": {"domain": [-0.25, 5.25], "nice": false, "zero": false}, "axis": null}, "y": {"field": "v", "type": "quantitative", "scale": {"domain": [-4.83, 15.1], "nice": false, "zero": false}, "axis": null}, "order": {"value": null}}},
              {"data": {"name": "bBotE"}, "mark": {"type": "point", "filled": true, "size": 240, "opacity": 1, "strokeWidth": 0},
               "encoding": {
                 "x": {"field": "t", "type": "quantitative", "scale": {"domain": [-0.25, 5.25], "nice": false, "zero": false}, "axis": {"title": null, "orient": "bottom", "labels": false, "domain": false, "tickSize": -2, "values": [-0.2,-0.1,0.1,0.2,0.3,0.4,0.6,0.7,0.8,0.9,1.1,1.2,1.3,1.4,1.6,1.7,1.8,1.9,2.1,2.2,2.3,2.4,2.6,2.7,2.8,2.9,3.1,3.2,3.3,3.4,3.6,3.7,3.8,3.9,4.1,4.2,4.3,4.4,4.6,4.7,4.8,4.9,5.1,5.2]}},
                 "y": {"field": "v", "type": "quantitative", "scale": {"domain": [-4.83, 15.1], "nice": false, "zero": false}, "axis": {"title": null, "orient": "left", "labels": false, "domain": false, "tickSize": -2, "values": [-4,-3,-2,-1,1,2,3,4,6,7,8,9,11,12,13,14]}},
                 "fill": {"field": "s", "type": "nominal", "scale": {"domain": ["lm","gm","ex","lmp","mup","nw","mum"], "range": ["#2163ad","#3399ff","#3cc83c","#2dbf4a","#006400","#ffa500","#00008b"]},
                   "legend": {"title": null, "labelExpr": "datum.value === 'lm' ? 'λₘ(t)' : datum.value === 'lmp' ? 'λₘ′(t)' : datum.value === 'mum' ? 't ∼ μₘ(t)' : datum.value === 'gm' ? 't ∼ gₘ(t)' : datum.value === 'mup' ? 't ∼ μₘ′(t)' : datum.value === 'ex' ? 't ∼ gₘ′(t) (existing gₘ′)' : 't ∼ gₘ′(t) (new gₘ′)'"}},
                 "shape": {"field": "s", "type": "nominal", "scale": {"domain": ["lm","gm","ex","lmp","mup","nw","mum"], "range": ["M-1.4,-0.1L1.4,-0.1L1.4,0.1L-1.4,0.1Z","M-0.23,-0.37L0.37,0.23L0.23,0.37L-0.37,-0.23ZM-0.37,0.23L0.23,-0.37L0.37,-0.23L-0.23,0.37Z","M0.42,0A0.42,0.42,0,1,1,-0.42,0A0.42,0.42,0,1,1,0.42,0Z","M-1.4,-0.1L1.4,-0.1L1.4,0.1L-1.4,0.1Z","M0.42,0A0.42,0.42,0,1,1,-0.42,0A0.42,0.42,0,1,1,0.42,0Z","M0.42,0A0.42,0.42,0,1,1,-0.42,0A0.42,0.42,0,1,1,0.42,0Z","M-0.23,-0.37L0.37,0.23L0.23,0.37L-0.37,-0.23ZM-0.37,0.23L0.23,-0.37L0.37,-0.23L-0.23,0.37Z"]}}
               }}
            ],
            "resolve": {"axis": {"x": "independent", "y": "independent"}}
          }
        ],
        "spacing": 38, "bounds": "flush",
        "title": {"text": "Events over time in single realizations", "orient": "bottom", "anchor": "middle", "offset": 27, "dx": 0},
        "resolve": {"scale": {"x": "independent", "y": "independent", "fill": "independent", "shape": "independent"}, "legend": {"fill": "independent", "shape": "independent"}}
      }
    ],
    "spacing": 144, "bounds": "flush",
    "title": {"text": "(b) Intervention decreases self-excitation, αₘ′ < αₘ", "orient": "bottom", "anchor": "middle", "offset": 20, "dx": -18},
    "resolve": {"scale": {"x": "independent", "y": "independent", "fill": "independent", "shape": "independent", "color": "independent"}, "legend": {"fill": "independent", "shape": "independent", "color": "independent"}}
  }
],
"columns": 1,
"align": "none",
"spacing": 22,
"resolve": {"scale": {"x": "independent", "y": "independent", "fill": "independent", "shape": "independent", "color": "independent"}, "legend": {"fill": "independent", "shape": "independent", "color": "independent"}}
}
